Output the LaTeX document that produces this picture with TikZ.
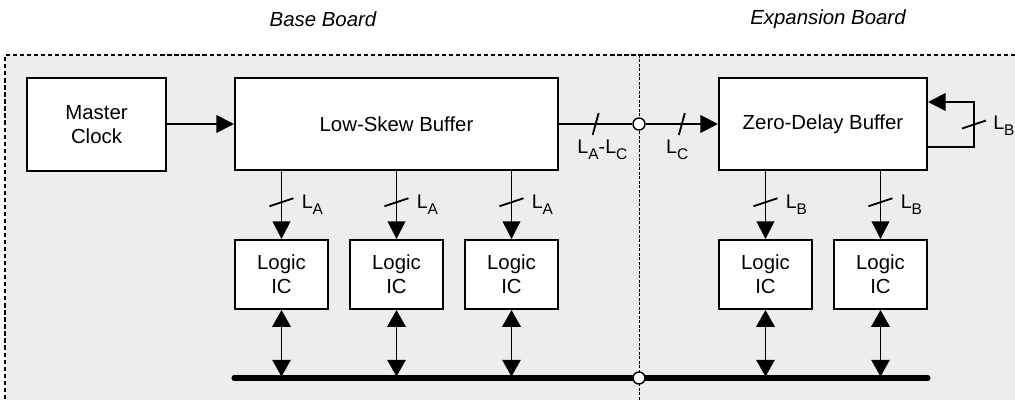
\documentclass[tikz,border=0pt]{standalone}
\usepackage{fontspec}
\setmainfont{Liberation Sans}
\usetikzlibrary{arrows.meta,positioning,calc}
\definecolor{clkboard}{HTML}{EDEDED}
\definecolor{clkline}{HTML}{000000}
\newcommand{\clkfont}{\fontsize{14.5}{17}\selectfont}
\newcommand{\lsub}[1]{L\raisebox{-4.2pt}{\fontsize{11}{13}\selectfont #1}}
\tikzstyle{clkbox}=[draw=clkline,fill=white,line width=1.4pt,align=center,font=\clkfont,inner sep=2pt]
\tikzstyle{clklogic}=[minimum width=2.325cm,minimum height=1.725cm]
\tikzstyle{clkwire}=[draw=clkline,line width=1.3pt]
\tikzstyle{clksig}=[clkwire,-{Triangle[length=4.4mm,width=4.4mm]}]
\tikzstyle{clkbidir}=[clkwire,{Triangle[length=4.2mm,width=4.6mm]}-{Triangle[length=4.2mm,width=4.6mm]}]
\tikzstyle{clkbus}=[draw=clkline,line width=3.6pt,line cap=round]
\tikzstyle{clkdot}=[circle,draw=clkline,fill=white,line width=1pt,inner sep=0pt,minimum size=3mm]
\tikzstyle{clklbl}=[font=\fontsize{14}{16}\selectfont,inner sep=0pt,anchor=base west]
\tikzstyle{clktitle}=[font=\clkfont\itshape,inner sep=0pt]

\begin{document}
\begin{tikzpicture}[x=0.025cm,y=-0.025cm]
  \useasboundingbox (0,0) rectangle (1015,400);
  \clip (0,0) rectangle (1015,400);
  \fill[clkboard] (5,55) rectangle (1030,420);
  \draw[clkline,line width=0.9pt,dash pattern=on 3pt off 2pt] (5,420) -- (5,55) -- (1030,55);
  \draw[clkline,line width=0.6pt,dash pattern=on 2pt off 1.2pt] (639,55) -- (639,420);
  \node[clktitle] (base) at (323,19) {Base Board};
  \node[clktitle] (exp) at (828,19) {Expansion Board};

  \node[clkbox,minimum width=3.475cm,minimum height=2.325cm] (master) at (96.5,124.5) {Master\\Clock};
  \node[clkbox,minimum width=8.075cm,minimum height=2.3cm] (lsb) at (396.5,124) {Low-Skew Buffer};
  \node[clkbox,minimum width=5.2cm,minimum height=2.3cm] (zdb) at (823,124) {Zero-Delay Buffer};
  \foreach \n/\x in {l1/281.5,l2/396.5,l3/511.5,l4/765.5,l5/880.5}
    \node[clkbox,clklogic] (\n) at (\x,274.5) {Logic\\IC};

  \draw[clksig] (master.east |- lsb.west) -- (lsb.west);
  \node[clkdot] (j1) at (639,124) {};
  \draw[clkwire] (lsb.east) -- coordinate[pos=0.5] (sac) (j1);
  \draw[clksig] (j1) -- coordinate[pos=0.5] (sc) (zdb.west);
  \draw[clkwire] (sac) ++(-3,11) -- ++(6,-22);
  \draw[clkwire] (sc) ++(-3,11) -- ++(6,-22);
  \node[clklbl] (lac) at ($(sac)+(-18.5,30)$) {\lsub{A}-\lsub{C}};
  \node[clklbl] (lc) at ($(sc)+(-16,30)$) {\lsub{C}};

  \foreach \n/\b/\t in {l1/lsb/A,l2/lsb/A,l3/lsb/A,l4/zdb/B,l5/zdb/B} {
    \draw[clksig] (\n.north |- \b.south) -- coordinate[pos=0.46] (s\n) (\n.north);
    \draw[clkwire] (s\n) ++(-12,4) -- ++(24,-8);
    \node[clklbl] (t\n) at ($(s\n)+(20,6)$) {\lsub{\t}};
  }

  \draw[clksig] ([yshift=-0.575cm]zdb.east) -- ++(46,0) |- coordinate[pos=0.25] (sfb) ([yshift=0.55cm]zdb.east);
  \draw[clkwire] (sfb) ++(-12,4) -- ++(24,-8);
  \node[clklbl] (tfb) at ($(sfb)+(19,5)$) {\lsub{B}};

  \coordinate (busL) at (234,378);
  \coordinate (busR) at (928,378);
  \draw[clkbus] (busL) -- (busR);
  \node[clkdot] (j2) at (639,378) {};
  \foreach \n in {l1,l2,l3,l4,l5}
    \draw[clkbidir,shorten >=1pt] (\n.south) -- (\n.south |- busL);
\end{tikzpicture}
\end{document}
